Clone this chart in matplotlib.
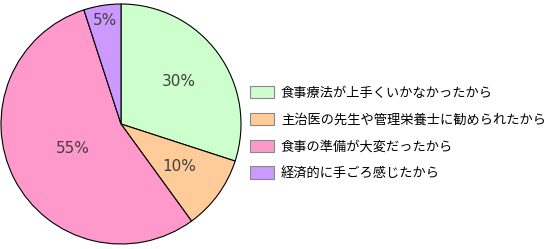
import matplotlib
matplotlib.use("Agg")
import matplotlib.pyplot as plt
from matplotlib.patches import Patch
import numpy as np

plt.rcParams['font.family'] = ['Noto Sans CJK JP', 'DejaVu Sans']

categories = ["食事療法が上手くいかなかったから",
              "主治医の先生や管理栄養士に勧められたから",
              "食事の準備が大変だったから",
              "経済的に手ごろ感じたから"]
values = [30, 10, 55, 5]
colors = ["#CCFFCC", "#FFCC99", "#FF99CC", "#CC99FF"]
label_dist = [0.6, 0.6, 0.45, 0.87]

W, H = 546, 249
fig = plt.figure(figsize=(W/100, H/100), dpi=100)
cx, cy, r = 121, 124, 120
ax = fig.add_axes([(cx - r)/W, (H - cy - r)/H, 2*r/W, 2*r/H])
wedges, _ = ax.pie(values, colors=colors, startangle=90, counterclock=False,
                   wedgeprops=dict(edgecolor="black", linewidth=0.8), radius=1)
ax.set_xlim(-1, 1); ax.set_ylim(-1, 1)
ax.set_aspect('equal')
ax.axis('off')
for w, v, d in zip(wedges, values, label_dist):
    ang = np.deg2rad((w.theta1 + w.theta2) / 2)
    ax.text(d*np.cos(ang), d*np.sin(ang), f"{v}%", ha='center', va='center',
            fontsize=11, color="#404040", family=['DejaVu Sans'])

handles = [Patch(facecolor=c, edgecolor="#888888", linewidth=0.8) for c in colors]
fig.legend(handles, categories, loc='upper left', bbox_to_anchor=(246/W, 1 - 82/H),
           frameon=False, fontsize=9.5, handlelength=1.8, handleheight=1.05,
           labelspacing=1.0, handletextpad=0.55, borderaxespad=0, borderpad=0.3)

fig.savefig("out.png", dpi=100)
